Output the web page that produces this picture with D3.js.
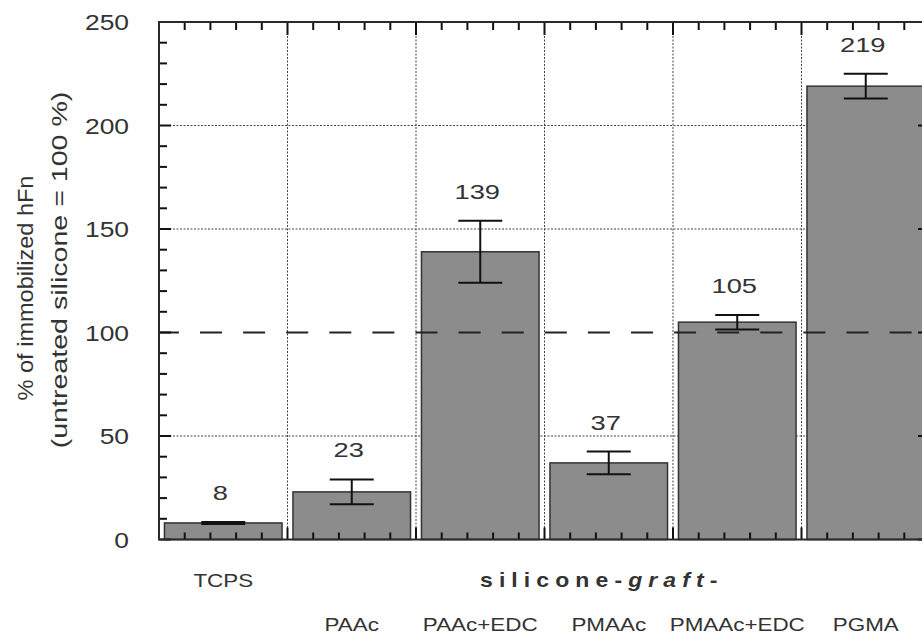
<!DOCTYPE html>
<html>
<head>
<meta charset="utf-8">
<script src="https://cdn.jsdelivr.net/npm/d3@7"></script>
<style>
  html, body { margin: 0; padding: 0; background: #fff; }
  svg { display: block; font-family: "Liberation Sans", Arial, Helvetica, sans-serif; }
</style>
</head>
<body>
<script>
// Immobilized hFn per surface, relative to untreated silicone (= 100 %)
const categories = ["TCPS", "PAAc", "PAAc+EDC", "PMAAc", "PMAAc+EDC", "PGMA"];
const values     = [8, 23, 139, 37, 105, 219];
const errors     = [0.5, 6, 15, 5.5, 3.5, 6];
const labelRow   = [0, 1, 1, 1, 1, 1];          // TCPS sits on the upper row
const yTicks     = [0, 50, 100, 150, 200, 250];
const yMinorStep = 10;
const refValue   = 100;                          // untreated silicone reference
const yTitle     = ["% of immobilized hFn", "(untreated silicone = 100 %)"];
const groupParts = [
  { text: "silicone-", italic: false },
  { text: "graft", italic: true },
  { text: "-", italic: false }
];

const W = 922, H = 637;
const plotL = 159, plotR = 930, plotT = 22, plotB = 539.5;
const ink = "#333";

const svg = d3.select("body").append("svg").attr("width", W).attr("height", H);

const y = d3.scaleLinear().domain([0, 250]).range([plotB, plotT]);
const band = d3.scaleBand().domain(categories).range([plotL, plotR]).padding(0);
const bar = d3.scaleBand().domain(categories).range([plotL, plotR])
  .paddingInner(0.085).paddingOuter(0.0425);
// continuous position in band units, used for the tick marks on top/bottom
const xu = d3.scaleLinear().domain([0, categories.length]).range([plotL, plotR]);

// text helper: places a label and stretches it horizontally
function label(g, x, yy, str, opt) {
  const o = Object.assign({ size: 20, k: 1.2, anchor: "middle", rot: 0, weight: "normal" }, opt);
  const t = g.append("text")
    .attr("transform", `translate(${x},${yy})` + (o.rot ? ` rotate(${o.rot})` : "") + ` scale(${o.k},1)`)
    .attr("text-anchor", o.anchor)
    .attr("font-size", o.size)
    .attr("font-weight", o.weight)
    .attr("fill", ink);
  if (o.ls) t.attr("letter-spacing", o.ls);
  if (str != null) t.text(str);
  return t;
}

// dotted grid
const grid = svg.append("g").attr("stroke", "#444").attr("stroke-width", 1)
  .attr("stroke-dasharray", "2,1.5");
grid.selectAll("line.v").data(categories.slice(1)).join("line")
  .attr("x1", d => band(d)).attr("x2", d => band(d))
  .attr("y1", plotT).attr("y2", plotB);
grid.selectAll("line.h").data(yTicks.filter(v => v > 0 && v < 250 && v !== refValue)).join("line")
  .attr("x1", plotL).attr("x2", plotR)
  .attr("y1", d => y(d)).attr("y2", d => y(d));

// bars
svg.append("g").selectAll("rect").data(categories).join("rect")
  .attr("x", d => bar(d))
  .attr("width", bar.bandwidth())
  .attr("y", (d, i) => y(values[i]))
  .attr("height", (d, i) => y(0) - y(values[i]))
  .attr("fill", "#8c8c8c")
  .attr("stroke", "#333")
  .attr("stroke-width", 1.5);

// reference line at 100 %
svg.append("line")
  .attr("x1", plotL).attr("x2", plotR)
  .attr("y1", y(refValue)).attr("y2", y(refValue))
  .attr("stroke", "#222").attr("stroke-width", 2)
  .attr("stroke-dasharray", "22,21.1").attr("stroke-dashoffset", 2.1);

// error bars
const eb = svg.append("g").attr("stroke", "#111").attr("stroke-width", 2).attr("fill", "none");
categories.forEach((c, i) => {
  const cx = bar(c) + bar.bandwidth() / 2;
  const hi = y(values[i] + errors[i]), lo = y(values[i] - errors[i]);
  eb.append("line").attr("x1", cx).attr("x2", cx).attr("y1", hi).attr("y2", lo);
  eb.append("line").attr("x1", cx - 22).attr("x2", cx + 22).attr("y1", hi).attr("y2", hi);
  eb.append("line").attr("x1", cx - 22).attr("x2", cx + 22).attr("y1", lo).attr("y2", lo);
});

// value labels
const vl = svg.append("g");
categories.forEach((c, i) => {
  const cx = bar(c) + bar.bandwidth() / 2 - 3;
  label(vl, cx, y(values[i] + errors[i]) - 22, String(values[i]), { size: 21, k: 1.3 });
});

// inward tick marks on all four sides
const minorY = d3.range(0, 251, yMinorStep).filter(v => v % 50 !== 0);
const minorX = d3.range(0, categories.length * 5 + 1).map(v => v / 5).filter(v => v % 1 !== 0);
const majorX = d3.range(0, categories.length + 1);
const tk = svg.append("g").attr("stroke", "#111").attr("stroke-width", 2);
[[minorY, 8], [yTicks, 12]].forEach(([vals, len]) => {
  vals.forEach(v => {
    tk.append("line").attr("x1", plotL).attr("x2", plotL + len).attr("y1", y(v)).attr("y2", y(v));
    tk.append("line").attr("x1", plotR).attr("x2", plotR - len).attr("y1", y(v)).attr("y2", y(v));
  });
});
[[minorX, 7], [majorX, 12]].forEach(([vals, len]) => {
  vals.forEach(v => {
    tk.append("line").attr("x1", xu(v)).attr("x2", xu(v)).attr("y1", plotB).attr("y2", plotB - len);
    tk.append("line").attr("x1", xu(v)).attr("x2", xu(v)).attr("y1", plotT).attr("y2", plotT + len + 1);
  });
});

// frame
svg.append("rect")
  .attr("x", plotL).attr("y", plotT)
  .attr("width", plotR - plotL).attr("height", plotB - plotT)
  .attr("fill", "none").attr("stroke", "#2a2a2a").attr("stroke-width", 2);

// y tick labels
const yl = svg.append("g");
yTicks.forEach(v => label(yl, 129, y(v) + 8, String(v), { size: 22, k: 1.2, anchor: "end" }));

// y title
const yt = svg.append("g");
label(yt, 33, 288, yTitle[0], { size: 22, k: 1.07, rot: -90 });
label(yt, 67, 270, yTitle[1], { size: 22, k: 1.3, rot: -90 });

// category labels
const cl = svg.append("g");
categories.forEach((c, i) => {
  const cx = band(c) + band.bandwidth() / 2;
  label(cl, cx, labelRow[i] === 0 ? 587 : 631, c, { size: 19, k: 1.18 });
});

// group label "silicone-graft-"
const gt = label(cl, 480, 587, null, { size: 20, k: 1.15, anchor: "start", weight: "bold", ls: 5.3 });
gt.selectAll("tspan").data(groupParts).join("tspan")
  .attr("font-style", d => d.italic ? "italic" : "normal")
  .text(d => d.text);
</script>
</body>
</html>
